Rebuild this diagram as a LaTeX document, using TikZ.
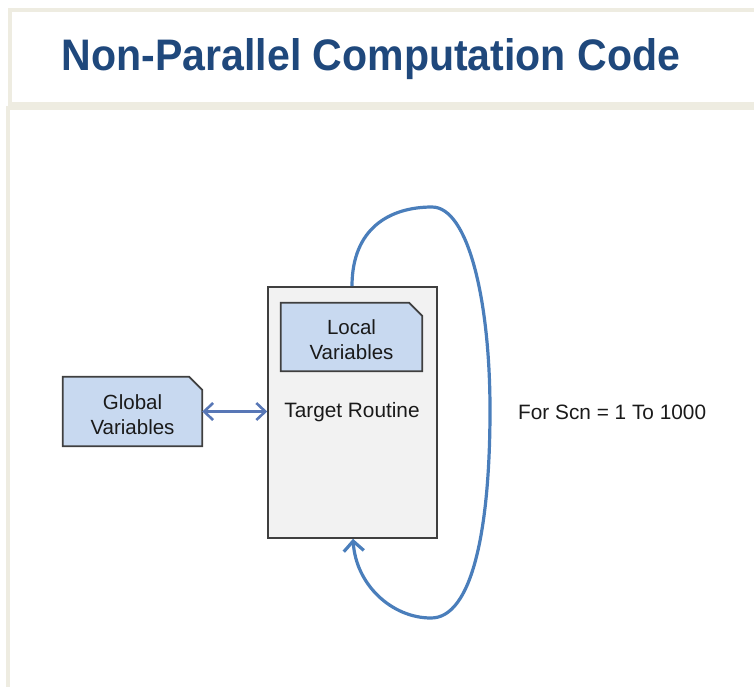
\documentclass[tikz,border=0pt]{standalone}
\usepackage{fontspec}
\setmainfont{Liberation Sans}
\usetikzlibrary{arrows.meta}
\definecolor{panel}{HTML}{EEECE1}
\definecolor{titleblue}{HTML}{1F487C}
\definecolor{boxblue}{HTML}{C8D9F0}
\definecolor{boxgray}{HTML}{F2F2F2}
\definecolor{edgegray}{HTML}{3F3F3F}
\definecolor{loopblue}{HTML}{4A7EBB}
\definecolor{linkblue}{HTML}{5877B6}
\definecolor{textdark}{HTML}{1A1A1A}
\tikzset{
  panelline/.style={draw=panel, line width=4pt},
  varbox/.style={rectangle, inner sep=0pt},
  snipline/.style={draw=edgegray, line width=1.8pt, fill=boxblue},
  boxtext/.style={inner sep=0pt, align=center, text=textdark, font=\fontsize{20.5}{25}\selectfont},
  routinebox/.style={rectangle, draw=edgegray, line width=1.6pt, fill=boxgray, inner sep=0pt},
  plain/.style={inner sep=0pt, text=textdark, font=\fontsize{20.8}{25}\selectfont},
  looparrow/.style={draw=loopblue, line width=3.2pt, -{Straight Barb[length=10pt,width=20pt,line width=3.2pt]}},
  linkarrow/.style={draw=linkblue, line width=2.6pt, {Straight Barb[length=9pt,width=17pt,line width=2.6pt]}-{Straight Barb[length=9pt,width=17pt,line width=2.6pt]}}
}
\newcommand{\snipbox}[1]{%
  \filldraw[snipline] (#1.south west) -- (#1.north west) -- ([xshift=-13pt]#1.north east)
    -- ([yshift=-13pt]#1.north east) -- (#1.south east) -- cycle;}
\begin{document}
\begin{tikzpicture}[x=1pt,y=-1pt]
\useasboundingbox (0,0) rectangle (754,686);
% panels
\draw[panelline] (760,10) -- (10,10) -- (10,104) -- (760,104);
\draw[panelline] (760,108) -- (8,108) -- (8,700);
% title
\node[anchor=base, inner sep=0pt, text=titleblue] (title) at (371,70)
  {\resizebox{618pt}{32pt}{\bfseries Non-Parallel Computation Code}};
% target routine box
\node[routinebox, minimum width=169pt, minimum height=251pt] (tr) at (352.5,412.5) {};
\node[varbox, minimum width=141pt, minimum height=68pt] (lv) at (351.5,337) {};
\snipbox{lv}
\node[boxtext] (lvt) at ([yshift=-3pt]lv.center) {Local\\Variables};
\node[plain] (trl) at (352,412) {Target Routine};
% global variables
\node[varbox, minimum width=139pt, minimum height=69pt] (gv) at (132.5,411.5) {};
\snipbox{gv}
\node[boxtext] (gvt) at ([yshift=-3pt]gv.center) {Global\\Variables};
% link arrow
\draw[linkarrow] (gv.east) -- (tr.west |- gv.east);
% loop
\coordinate (ltop) at (432,207);
\coordinate (lright) at (490,410);
\coordinate (lbot) at (431,618);
\draw[looparrow] ([xshift=-0.5pt]tr.north) .. controls (352,228) and (390,207) .. (ltop)
  .. controls (468,207) and (490,300) .. (lright)
  .. controls (490,530) and (472,618) .. (lbot)
  .. controls (392,618) and (356,585) .. ([xshift=0.5pt]tr.south);
\node[plain, anchor=west] (loopl) at (518,412) {For Scn = 1 To 1000};
\end{tikzpicture}
\end{document}
